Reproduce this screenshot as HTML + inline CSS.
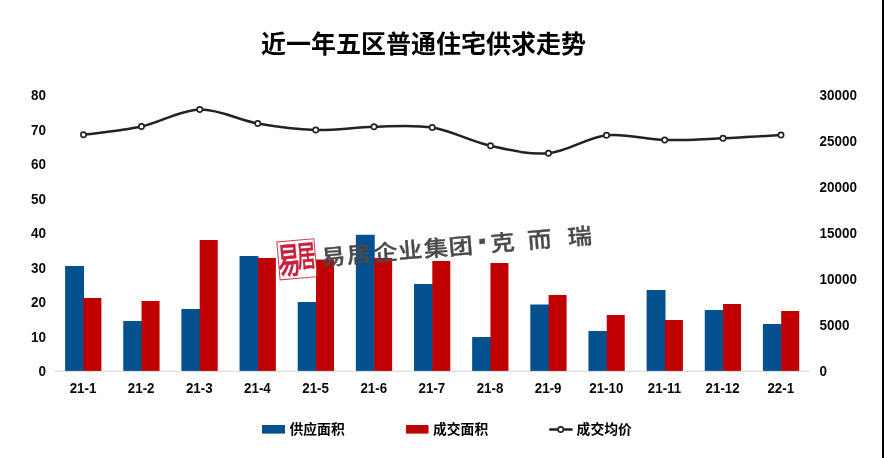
<!DOCTYPE html>
<html lang="zh-CN">
<head>
<meta charset="utf-8">
<title>近一年五区普通住宅供求走势</title>
<style>
html,body{margin:0;padding:0;background:#fff;}
body{width:884px;height:458px;overflow:hidden;position:relative;}
svg{display:block;position:absolute;left:0;top:0;}
text{font-family:"Liberation Sans","Noto Sans CJK SC",sans-serif;}
.num{font-size:14.2px;font-weight:bold;fill:#0a0a0a;}
.title{font-family:"Liberation Sans","Noto Sans CJK SC",sans-serif;font-size:25px;font-weight:bold;fill:#000;}
.leg{font-size:13.8px;font-weight:bold;fill:#000;}
.wm{font-family:"Liberation Sans","Noto Sans CJK SC",sans-serif;font-size:22.5px;font-weight:500;fill:#4a4a4a;stroke:#4a4a4a;stroke-width:0.35px;}
.seal{font-family:"Liberation Sans","Noto Sans CJK SC",sans-serif;font-weight:500;fill:#c8203c;stroke:#c8203c;stroke-width:0.5px;}
</style>
</head>
<body>
<svg width="884" height="458" viewBox="0 0 884 458">
<rect x="0" y="0" width="884" height="458" fill="#ffffff"/>
<rect x="882" y="0" width="2" height="458" fill="#000"/>
<text class="title" x="423.5" y="52.5" text-anchor="middle">近一年五区普通住宅供求走势</text>
<rect x="54.5" y="370.8" width="755" height="1" fill="#d4d4d4"/>
<text class="num" transform="translate(46.0,376.40) scale(0.95,1)" text-anchor="end">0</text>
<text class="num" transform="translate(46.0,341.90) scale(0.95,1)" text-anchor="end">10</text>
<text class="num" transform="translate(46.0,307.40) scale(0.95,1)" text-anchor="end">20</text>
<text class="num" transform="translate(46.0,272.90) scale(0.95,1)" text-anchor="end">30</text>
<text class="num" transform="translate(46.0,238.40) scale(0.95,1)" text-anchor="end">40</text>
<text class="num" transform="translate(46.0,203.90) scale(0.95,1)" text-anchor="end">50</text>
<text class="num" transform="translate(46.0,169.40) scale(0.95,1)" text-anchor="end">60</text>
<text class="num" transform="translate(46.0,134.90) scale(0.95,1)" text-anchor="end">70</text>
<text class="num" transform="translate(46.0,100.40) scale(0.95,1)" text-anchor="end">80</text>
<text class="num" transform="translate(819.5,376.40) scale(0.95,1)">0</text>
<text class="num" transform="translate(819.5,330.40) scale(0.95,1)">5000</text>
<text class="num" transform="translate(819.5,284.40) scale(0.95,1)">10000</text>
<text class="num" transform="translate(819.5,238.40) scale(0.95,1)">15000</text>
<text class="num" transform="translate(819.5,192.40) scale(0.95,1)">20000</text>
<text class="num" transform="translate(819.5,146.40) scale(0.95,1)">25000</text>
<text class="num" transform="translate(819.5,100.40) scale(0.95,1)">30000</text>
<rect x="65.10" y="266.00" width="18.90" height="104.90" fill="#05508f"/>
<rect x="83.40" y="298.00" width="18.00" height="72.90" fill="#c00000"/>
<text class="num" transform="translate(83.00,393.4) scale(0.94,1)" text-anchor="middle">21-1</text>
<rect x="123.25" y="321.00" width="18.90" height="49.90" fill="#05508f"/>
<rect x="141.55" y="301.00" width="18.00" height="69.90" fill="#c00000"/>
<text class="num" transform="translate(141.15,393.4) scale(0.94,1)" text-anchor="middle">21-2</text>
<rect x="181.40" y="309.00" width="18.90" height="61.90" fill="#05508f"/>
<rect x="199.70" y="240.00" width="18.00" height="130.90" fill="#c00000"/>
<text class="num" transform="translate(199.30,393.4) scale(0.94,1)" text-anchor="middle">21-3</text>
<rect x="239.55" y="256.00" width="18.90" height="114.90" fill="#05508f"/>
<rect x="257.85" y="258.00" width="18.00" height="112.90" fill="#c00000"/>
<text class="num" transform="translate(257.45,393.4) scale(0.94,1)" text-anchor="middle">21-4</text>
<rect x="297.70" y="302.00" width="18.90" height="68.90" fill="#05508f"/>
<rect x="316.00" y="259.50" width="18.00" height="111.40" fill="#c00000"/>
<text class="num" transform="translate(315.60,393.4) scale(0.94,1)" text-anchor="middle">21-5</text>
<rect x="355.85" y="234.75" width="18.90" height="136.15" fill="#05508f"/>
<rect x="374.15" y="258.00" width="18.00" height="112.90" fill="#c00000"/>
<text class="num" transform="translate(373.75,393.4) scale(0.94,1)" text-anchor="middle">21-6</text>
<rect x="414.00" y="284.00" width="18.90" height="86.90" fill="#05508f"/>
<rect x="432.30" y="261.00" width="18.00" height="109.90" fill="#c00000"/>
<text class="num" transform="translate(431.90,393.4) scale(0.94,1)" text-anchor="middle">21-7</text>
<rect x="472.15" y="337.00" width="18.90" height="33.90" fill="#05508f"/>
<rect x="490.45" y="263.00" width="18.00" height="107.90" fill="#c00000"/>
<text class="num" transform="translate(490.05,393.4) scale(0.94,1)" text-anchor="middle">21-8</text>
<rect x="530.30" y="304.50" width="18.90" height="66.40" fill="#05508f"/>
<rect x="548.60" y="295.00" width="18.00" height="75.90" fill="#c00000"/>
<text class="num" transform="translate(548.20,393.4) scale(0.94,1)" text-anchor="middle">21-9</text>
<rect x="588.45" y="331.00" width="18.90" height="39.90" fill="#05508f"/>
<rect x="606.75" y="315.00" width="18.00" height="55.90" fill="#c00000"/>
<text class="num" transform="translate(606.35,393.4) scale(0.94,1)" text-anchor="middle">21-10</text>
<rect x="646.60" y="290.00" width="18.90" height="80.90" fill="#05508f"/>
<rect x="664.90" y="320.00" width="18.00" height="50.90" fill="#c00000"/>
<text class="num" transform="translate(664.50,393.4) scale(0.94,1)" text-anchor="middle">21-11</text>
<rect x="704.75" y="310.00" width="18.90" height="60.90" fill="#05508f"/>
<rect x="723.05" y="304.00" width="18.00" height="66.90" fill="#c00000"/>
<text class="num" transform="translate(722.65,393.4) scale(0.94,1)" text-anchor="middle">21-12</text>
<rect x="762.90" y="324.00" width="18.90" height="46.90" fill="#05508f"/>
<rect x="781.20" y="311.00" width="18.00" height="59.90" fill="#c00000"/>
<text class="num" transform="translate(780.80,393.4) scale(0.94,1)" text-anchor="middle">22-1</text>
<g transform="translate(297,259.3) rotate(-5)">
<rect x="-18.6" y="-19" width="37.2" height="38" fill="none" stroke="#cf3a55" stroke-width="1"/>
<text class="seal" font-size="36" transform="translate(-8.2,13.2) scale(0.63,1)" x="0" y="0" text-anchor="middle">易</text>
<text class="seal" font-size="30" transform="translate(9.6,8.2) scale(0.62,1)" x="0" y="0" text-anchor="middle">居</text>
</g>
<g transform="translate(333.75,264.40) rotate(-4.65) scale(1.08,0.97)"><text class="wm" text-anchor="middle" x="0.00 23.92 48.54 71.53 95.45 118.45 139.58 157.23 191.60 228.99" y="0">易居企业集团<tspan font-weight="900" font-size="34">·</tspan>克而瑞</text></g>
<path d="M83.50 134.75 C93.17 133.38 122.12 130.71 141.50 126.50 C160.88 122.29 180.38 110.00 199.75 109.50 C219.12 109.00 238.42 120.08 257.75 123.50 C277.08 126.92 296.38 129.46 315.75 130.00 C335.12 130.54 354.58 127.17 374.00 126.75 C393.42 126.33 412.83 124.33 432.25 127.50 C451.67 130.67 471.12 141.46 490.50 145.75 C509.88 150.04 529.17 155.00 548.50 153.25 C567.83 151.50 587.12 137.46 606.50 135.25 C625.88 133.04 645.33 139.50 664.75 140.00 C684.17 140.50 703.62 139.08 723.00 138.25 C742.38 137.42 771.33 135.54 781.00 135.00" fill="none" stroke="#222222" stroke-width="2.5" stroke-linecap="round" stroke-linejoin="round"/>
<circle cx="83.50" cy="134.75" r="2.65" fill="#fff" stroke="#222222" stroke-width="1.6"/>
<circle cx="141.50" cy="126.50" r="2.65" fill="#fff" stroke="#222222" stroke-width="1.6"/>
<circle cx="199.75" cy="109.50" r="2.65" fill="#fff" stroke="#222222" stroke-width="1.6"/>
<circle cx="257.75" cy="123.50" r="2.65" fill="#fff" stroke="#222222" stroke-width="1.6"/>
<circle cx="315.75" cy="130.00" r="2.65" fill="#fff" stroke="#222222" stroke-width="1.6"/>
<circle cx="374.00" cy="126.75" r="2.65" fill="#fff" stroke="#222222" stroke-width="1.6"/>
<circle cx="432.25" cy="127.50" r="2.65" fill="#fff" stroke="#222222" stroke-width="1.6"/>
<circle cx="490.50" cy="145.75" r="2.65" fill="#fff" stroke="#222222" stroke-width="1.6"/>
<circle cx="548.50" cy="153.25" r="2.65" fill="#fff" stroke="#222222" stroke-width="1.6"/>
<circle cx="606.50" cy="135.25" r="2.65" fill="#fff" stroke="#222222" stroke-width="1.6"/>
<circle cx="664.75" cy="140.00" r="2.65" fill="#fff" stroke="#222222" stroke-width="1.6"/>
<circle cx="723.00" cy="138.25" r="2.65" fill="#fff" stroke="#222222" stroke-width="1.6"/>
<circle cx="781.00" cy="135.00" r="2.65" fill="#fff" stroke="#222222" stroke-width="1.6"/>
<rect x="262" y="425" width="23" height="8.6" fill="#05508f"/>
<text class="leg" x="289.5" y="434.3">供应面积</text>
<rect x="406" y="425" width="22.5" height="8.6" fill="#c00000"/>
<text class="leg" x="433" y="434.3">成交面积</text>
<path d="M550.2 429.5H571.6" stroke="#222222" stroke-width="2.5" stroke-linecap="round"/>
<circle cx="560.7" cy="429.5" r="2.65" fill="#fff" stroke="#222222" stroke-width="1.6"/>
<text class="leg" x="576.6" y="434.3">成交均价</text>
</svg>
</body>
</html>
